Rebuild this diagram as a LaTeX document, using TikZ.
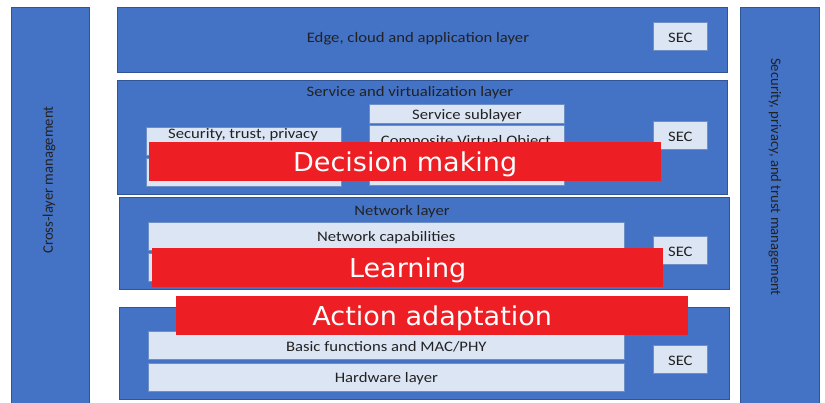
\documentclass[tikz,border=0pt]{standalone}
\usepackage{fontspec}
\setmainfont{Carlito}
\newfontfamily\widefont[FakeStretch=1.15]{Carlito}
\newfontfamily\redfont[FakeStretch=1.04]{DejaVu Sans}
\definecolor{layerblue}{HTML}{4472C4}
\definecolor{layeredge}{HTML}{2F5597}
\definecolor{subfill}{HTML}{DCE5F4}
\definecolor{subedge}{HTML}{6E8EC6}
\definecolor{hotred}{HTML}{ED1F24}
\definecolor{txt}{HTML}{222222}
\begin{document}
\begin{tikzpicture}[x=1pt,y=-1pt,
  layer/.style={draw=layeredge, line width=0.8pt, fill=layerblue, anchor=north west, inner sep=0pt},
  sub/.style={draw=subedge, line width=0.7pt, fill=subfill, anchor=north west, inner sep=0pt},
  lbl/.style={text=txt, font=\widefont\fontsize{14.5}{16}\selectfont, inner sep=0pt, yshift=-1.5pt},
  vlbl/.style={text=txt, font=\fontsize{14.6}{16}\selectfont, inner sep=0pt},
  redbar/.style={fill=hotred, anchor=north west, inner sep=0pt},
  redlbl/.style={text=white, font=\redfont\fontsize{26}{30}\selectfont, inner sep=0pt, yshift=-2.5pt}]
\useasboundingbox (0,0) rectangle (825,402);
% side bars
\node[layer, minimum width=78pt, minimum height=396pt] (cross) at (11,7) {};
\node[layer, minimum width=79pt, minimum height=396pt] (sptm) at (740,7) {};
\node[vlbl, rotate=90] (crosst) at (49,180) {Cross-layer management};
\node[vlbl, rotate=-90] (sptmt) at (775,177) {Security, privacy, and trust management};
% edge layer
\node[layer, minimum width=610pt, minimum height=65pt] (edge) at (117,7) {};
\node[lbl] (edget) at (418,37) {Edge, cloud and application layer};
\node[sub, minimum width=54pt, minimum height=28pt] (sec1) at (653,22) {};
\node[lbl] at (sec1.center) {SEC};
% service layer
\node[layer, minimum width=610pt, minimum height=114pt] (serv) at (117,80) {};
\node[lbl] (servt) at (410,91) {Service and virtualization layer};
\node[sub, minimum width=195pt, minimum height=19pt] (ssub) at (369,104) {};
\node[lbl] at (ssub.center) {Service sublayer};
\node[sub, minimum width=195pt, minimum height=60pt] (cvo) at (369,125) {};
\node[lbl] (cvot) at (466,140) {Composite Virtual Object};
\node[sub, minimum width=195pt, minimum height=28pt] (stp) at (146,127) {};
\node[lbl] (stpt) at (243,133) {Security, trust, privacy};
\node[sub, minimum width=195pt, minimum height=28pt] (stp2) at (146,158) {};
\node[sub, minimum width=54pt, minimum height=28pt] (sec2) at (653,121) {};
\node[lbl] at (sec2.center) {SEC};
% network layer
\node[layer, minimum width=610pt, minimum height=92pt] (net) at (119,197) {};
\node[lbl] (nett) at (402,210) {Network layer};
\node[sub, minimum width=476pt, minimum height=28pt] (ncap) at (148,222) {};
\node[lbl] at (ncap.center) {Network capabilities};
\node[sub, minimum width=476pt, minimum height=28pt] (ncap2) at (148,253) {};
\node[sub, minimum width=54pt, minimum height=28pt] (sec3) at (653,236) {};
\node[lbl] at (sec3.center) {SEC};
% bottom layer
\node[layer, minimum width=610pt, minimum height=92pt] (bot) at (119,307) {};
\node[sub, minimum width=476pt, minimum height=28pt] (mac) at (148,331) {};
\node[lbl] at (mac.center) {Basic functions and MAC/PHY};
\node[sub, minimum width=476pt, minimum height=28pt] (hw) at (148,363) {};
\node[lbl] at (hw.center) {Hardware layer};
\node[sub, minimum width=54pt, minimum height=28pt] (sec4) at (653,345) {};
\node[lbl] at (sec4.center) {SEC};
% red overlays
\node[redbar, minimum width=512pt, minimum height=39pt] (dm) at (149,142) {};
\node[redlbl] at (dm.center) {Decision making};
\node[redbar, minimum width=511pt, minimum height=39pt] (lrn) at (152,248) {};
\node[redlbl] at (lrn.center) {Learning};
\node[redbar, minimum width=512pt, minimum height=39pt] (aa) at (176,296) {};
\node[redlbl] at (aa.center) {Action adaptation};
\end{tikzpicture}
\end{document}
